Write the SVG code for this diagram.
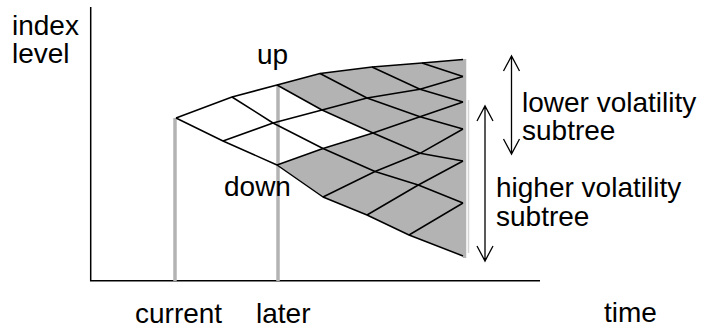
<svg xmlns="http://www.w3.org/2000/svg" width="708" height="328" viewBox="0 0 708 328">
<style>
text{font-family:"Liberation Sans",Arial,sans-serif;font-size:28px;fill:#000}
.ax{stroke:#000;stroke-width:1.5;fill:none}
.lat{stroke:#000;stroke-width:1.5;fill:none;stroke-linejoin:round}
.gl{stroke:#b3b3b3;stroke-width:3.5;fill:none}
.arr{stroke:#000;stroke-width:1.3;fill:none}
</style>
<rect width="708" height="328" fill="#fff"/>
<g id="axes">
<path class="ax" d="M90.7,7 V280.7 H540"/>
<text x="12" y="35">index</text>
<text x="12" y="63">level</text>
<text x="604" y="322">time</text>
</g>
<g id="shade">
<polygon fill="#b3b3b3" points="277,85 320,73.5 372,67 422,63 463,59.5 463,256 409,235 367,215 323,197 277,165 323,148.5 373,133 322,110"/>
</g>
<g id="timelines">
<line class="gl" x1="175" y1="118" x2="175" y2="281"/>
<line class="gl" x1="278" y1="86" x2="278" y2="281"/>
<line stroke="#d4d4d4" stroke-width="1.5" x1="468.5" y1="100" x2="468.5" y2="253"/>
<line class="gl" x1="464.5" y1="59" x2="464.5" y2="258" stroke-width="4"/>
</g>
<g id="lattice" class="lat">
<polyline points="176,118 232,97 277,85 320,73.5 372,67 422,63 463,59.5"/>
<polyline points="176,118 223,141 277,165 323,197 367,215 409,235 463,256"/>
<polyline points="232,97 273,123 323,148.5 375,171.5 418.3,185 463,203"/>
<polyline points="223,141 273,123 322,110 367,98 420,89.3 463,76.5"/>
<polyline points="277,85 322,110 373,133 420,153.3 463,161"/>
<polyline points="277,165 323,148.5 373,133 420,116.7 463,102"/>
<polyline points="320,73.5 367,98 420,116.7 463,129"/>
<polyline points="323,197 375,171.5 420,153.3 463,129"/>
<polyline points="372,67 420,89.3 463,102"/>
<polyline points="367,215 418.3,185 463,161"/>
<polyline points="422,63 463,76.5"/>
<polyline points="409,235 463,203"/>
</g>
<g id="labels">
<text x="257" y="64">up</text>
<text x="224" y="196">down</text>
<text x="135" y="323">current</text>
<text x="256" y="323">later</text>
</g>
<g id="lower-vol">
<path class="arr" d="M511.5,56 V154 M503.5,71 L511.5,56 L519.5,71 M503.5,139 L511.5,154 L519.5,139"/>
<text x="522" y="112">lower volatility</text>
<text x="522" y="140">subtree</text>
</g>
<g id="higher-vol">
<path class="arr" d="M485,106 V261 M477,121 L485,106 L493,121 M477,246 L485,261 L493,246"/>
<text x="496" y="197">higher volatility</text>
<text x="496" y="226">subtree</text>
</g>
</svg>
